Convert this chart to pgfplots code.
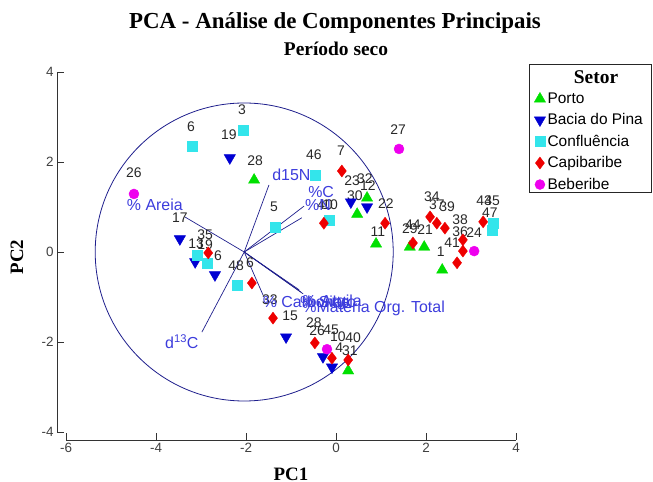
\documentclass[border=0pt]{standalone}
\usepackage{fontspec}
\setmainfont{Liberation Serif}
\setsansfont{Liberation Sans}
\usepackage{pgfplots}
\pgfplotsset{compat=1.18}
\definecolor{porto}{RGB}{0,224,0}
\definecolor{bacia}{RGB}{0,0,210}
\definecolor{conf}{RGB}{51,229,235}
\definecolor{capi}{RGB}{238,0,0}
\definecolor{bebe}{RGB}{238,0,238}
\definecolor{vec}{RGB}{30,30,140}
\definecolor{vlab}{RGB}{60,60,220}
\definecolor{lab}{RGB}{40,40,40}
\begin{document}
\begin{tikzpicture}[x=1bp,y=1bp]
\useasboundingbox (0,0) rectangle (653,482);
\node[font=\bfseries\fontsize{23}{26}\selectfont] at (335,459) {PCA - Análise de Componentes Principais};
\node[font=\bfseries\fontsize{19.5}{22}\selectfont] at (336,433) {Período seco};
\node[font=\bfseries\fontsize{19}{22}\selectfont, rotate=90] at (17,225) {PC2};
\node[font=\bfseries\fontsize{19}{22}\selectfont, anchor=base] at (291,1) {PC1};
\draw[black!85, line width=0.8bp] (529,290) rectangle (651,418);
\node[font=\bfseries\fontsize{19.5}{22}\selectfont] at (596,405) {Setor};
\begin{axis}[
  at={(66bp,50bp)}, anchor=south west,
  scale only axis, width=450bp, height=360bp,
  xmin=-6, xmax=4, ymin=-4, ymax=4,
  axis x line=bottom, axis y line=left,
  axis x line shift=8bp, axis y line shift=9bp,
  axis line style={-, black!80, line width=0.8bp},
  every tick/.style={black!80, line width=0.8bp},
  tick align=inside, major tick length=7bp,
  xtick={-6,-4,-2,0,2,4}, xticklabels={-6,-4,-2,0,2,4},
  ytick={-4,-2,0,2,4}, yticklabels={-4,-2,0,2,4},
  ticklabel style={font=\sffamily\fontsize{13.5}{15}\selectfont, text=black!75},
  clip=false,
  legend style={at={(1.038,0.951)}, anchor=north west, draw=none, fill=none,
    font=\sffamily\fontsize{15.5}{17}\selectfont, row sep=4.8bp, inner sep=1bp,
    /tikz/every even column/.append style={column sep=3bp}},
  legend cell align=left,
]
% loading vectors
\addplot[vec, line width=0.7bp, forget plot] coordinates {(-2.04,0) (-1.49,1.49)};
\addplot[vec, line width=0.7bp, forget plot] coordinates {(-2.04,0) (-0.71,1.02)};
\addplot[vec, line width=0.7bp, forget plot] coordinates {(-2.04,0) (-0.76,0.76)};
\addplot[vec, line width=0.7bp, forget plot] coordinates {(-2.04,0) (-3.36,0.78)};
\addplot[vec, line width=0.7bp, forget plot] coordinates {(-2.04,0) (-2.98,-1.78)};
\addplot[vec, line width=0.7bp, forget plot] coordinates {(-2.04,0) (-1.62,-0.96)};
\addplot[vec, line width=0.7bp, forget plot] coordinates {(-2.04,0) (-0.82,-0.84)};
\addplot[vec, line width=0.7bp, forget plot] coordinates {(-2.04,0) (-0.78,-0.89)};
\addplot[vec, line width=0.7bp, forget plot] coordinates {(-2.04,0) (-0.73,-0.93)};
\draw[vec, line width=0.8bp] (axis cs:-2.04,0) circle [radius=149bp];
% Porto
\addplot[only marks, mark=triangle*, mark size=6.5bp, color=porto] coordinates {
(-1.82,1.60) (0.89,0.18) (0.47,0.84) (0.69,1.20) (1.96,0.11) (1.64,0.11) (2.36,-0.40) (0.27,-2.64)};
\addlegendentry{Porto}
% Bacia do Pina
\addplot[only marks, mark=triangle*, mark size=6.5bp, mark options={rotate=180}, color=bacia] coordinates {
(-2.36,2.09) (-3.47,0.29) (-3.13,-0.22) (-2.69,-0.51) (0.33,1.11) (0.69,1.00) (-1.11,-1.89) (-0.29,-2.33) (-0.09,-2.56)};
\addlegendentry{Bacia do Pina}
% Confluencia
\addplot[only marks, mark=square*, mark size=5bp, color=conf] coordinates {
(-2.07,2.71) (-3.20,2.36) (-0.47,1.71) (-0.16,0.71) (-1.36,0.56) (-3.09,-0.07) (-2.87,-0.24) (-2.20,-0.73) (3.49,0.64) (3.47,0.49)};
\addlegendentry{Confluência}
% Capibaribe
\addplot[only marks, mark=diamond*, mark size=6bp, color=capi] coordinates {
(0.13,1.80) (-0.27,0.64) (1.09,0.64) (2.09,0.78) (2.24,0.64) (2.42,0.53) (1.71,0.20) (3.27,0.67) (2.82,0.27) (2.82,0.02) (2.69,-0.24) (-1.87,-0.69) (-2.84,-0.02) (-1.40,-1.47) (-0.47,-2.02) (-0.09,-2.36) (0.27,-2.40)};
\addlegendentry{Capibaribe}
% Beberibe
\addplot[only marks, mark=*, mark size=5bp, color=bebe] coordinates {
(-4.49,1.29) (1.40,2.29) (3.07,0.02) (-0.20,-2.16)};
\addlegendentry{Beberibe}
% point labels
\begin{scope}[every node/.style={font=\sffamily\fontsize{14}{16}\selectfont, text=lab, inner sep=0pt}]
\node at (axis cs:-2.09,3.16) {3};
\node at (axis cs:-3.22,2.78) {6};
\node at (axis cs:-2.38,2.60) {19};
\node at (axis cs:-1.80,2.02) {28};
\node at (axis cs:-4.49,1.76) {26};
\node at (axis cs:-0.49,2.16) {46};
\node at (axis cs:0.11,2.24) {7};
\node at (axis cs:1.38,2.71) {27};
\node at (axis cs:0.36,1.58) {23};
\node at (axis cs:0.64,1.62) {32};
\node at (axis cs:0.71,1.47) {12};
\node at (axis cs:0.42,1.24) {30};
\node at (axis cs:-0.24,1.04) {40};
\node at (axis cs:-0.13,1.04) {10};
\node at (axis cs:-1.38,1.00) {5};
\node at (axis cs:-3.47,0.76) {17};
\node at (axis cs:1.11,1.07) {22};
\node at (axis cs:0.93,0.44) {11};
\node at (axis cs:2.13,1.22) {34};
\node at (axis cs:2.24,1.04) {37};
\node at (axis cs:2.47,1.00) {39};
\node at (axis cs:1.64,0.51) {29};
\node at (axis cs:1.71,0.60) {44};
\node at (axis cs:1.98,0.49) {21};
\node at (axis cs:2.33,0.00) {1};
\node at (axis cs:2.76,0.71) {38};
\node at (axis cs:2.76,0.44) {36};
\node at (axis cs:3.07,0.44) {24};
\node at (axis cs:2.58,0.20) {41};
\node at (axis cs:3.29,1.13) {43};
\node at (axis cs:3.47,1.13) {45};
\node at (axis cs:3.42,0.87) {47};
\node at (axis cs:-2.91,0.38) {35};
\node at (axis cs:-3.11,0.18) {13};
\node at (axis cs:-2.91,0.16) {19};
\node at (axis cs:-2.62,-0.09) {6};
\node at (axis cs:-2.22,-0.31) {48};
\node at (axis cs:-1.91,-0.24) {6};
\node at (axis cs:-1.47,-1.07) {33};
\node at (axis cs:-1.02,-1.42) {15};
\node at (axis cs:-0.49,-1.58) {28};
\node at (axis cs:-0.42,-1.76) {26};
\node at (axis cs:-0.11,-1.73) {45};
\node at (axis cs:0.04,-1.89) {10};
\node at (axis cs:0.38,-1.91) {40};
\node at (axis cs:0.07,-2.13) {4};
\node at (axis cs:0.31,-2.20) {31};
\end{scope}
% vector labels
\begin{scope}[every node/.style={font=\sffamily\fontsize{16}{18}\selectfont, text=vlab, inner sep=0pt, anchor=west}]
\node at (axis cs:-1.42,1.71) {d15N};
\node at (axis cs:-0.62,1.33) {\%C};
\node at (axis cs:-0.69,1.04) {\%N};
\node at (axis cs:-4.65,1.04) {\% Areia};
\node at (axis cs:-3.80,-2.00) {d\textsuperscript{13}C};
\node at (axis cs:-1.63,-1.11) {\% Carbonato};
\node at (axis cs:-0.80,-1.11) {\% Silte};
\node at (axis cs:-0.75,-1.11) {\% Argila};
\node at (axis cs:-0.75,-1.24) {\%Matéria Org. Total};
\end{scope}
\end{axis}
\end{tikzpicture}
\end{document}
